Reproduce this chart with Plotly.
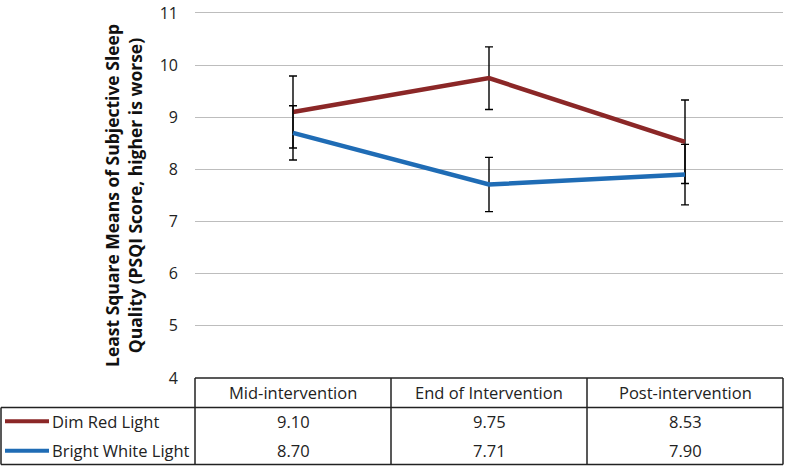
import plotly.graph_objects as go

categories = ["Mid-intervention", "End of Intervention", "Post-intervention"]
series_names = ["Dim Red Light", "Bright White Light"]
red_values = [9.10, 9.75, 8.53]
red_errors = [0.69, 0.60, 0.80]
blue_values = [8.70, 7.71, 7.90]
blue_errors = [0.52, 0.52, 0.58]
y_ticks = [4, 5, 6, 7, 8, 9, 10, 11]
y_title = "Least Square Means of Subjective Sleep<br>Quality (PSQI Score, higher is worse)"

RED = "#8B2727"
BLUE = "#1F6CB5"
FONT = "Open Sans"

W, H = 785, 468
L, R, T, B = 195, 2, 5, 90
PW = W - L - R
PH = H - T - B
Y_TOP = 11 + 2 / 53.0


def px(xp):
    return (xp - L) / PW


def py(yp):
    return (H - B - yp) / PH


fig = go.Figure()
for name, vals, errs, col in [
    (series_names[0], red_values, red_errors, RED),
    (series_names[1], blue_values, blue_errors, BLUE),
]:
    fig.add_trace(go.Scatter(
        x=categories, y=vals, name=name, mode="lines",
        line=dict(color=col, width=4.5),
        error_y=dict(type="data", array=errs, visible=True, color="black",
                     thickness=1.4, width=4),
        showlegend=False, hoverinfo="skip",
    ))

fig.update_layout(
    width=W, height=H,
    margin=dict(l=L, r=R, t=T, b=B),
    paper_bgcolor="white", plot_bgcolor="white",
    font=dict(family=FONT, size=16, color="#222"),
    xaxis=dict(type="category", range=[-0.5, 2.5], showticklabels=False,
               showgrid=False, zeroline=False, showline=False, ticks=""),
    yaxis=dict(range=[4, Y_TOP], tickvals=y_ticks, showgrid=True,
               gridcolor="#BDBDBD", gridwidth=1, zeroline=False,
               showline=False, ticks="", ticklabelstandoff=16,
               ticklabeloverflow="allow",
               tickfont=dict(family=FONT, size=16, color="#222")),
)

# axis title
fig.add_annotation(text="<b>" + y_title + "</b>", textangle=-90,
                   xref="paper", yref="paper", x=px(124), y=py(193),
                   showarrow=False, font=dict(family=FONT, size=17.5, color="#111"),
                   xanchor="center", yanchor="middle")

# table lines
line_style = dict(color="#222", width=1.5)
y_top, y_h, y_bot = 378, 408, 466
col_x = [195, 391, 587, 783]
shapes = []
shapes.append(dict(type="line", xref="paper", yref="paper", x0=px(195), x1=px(783),
                   y0=py(y_top), y1=py(y_top), line=line_style))
for yy in (y_h, y_bot):
    shapes.append(dict(type="line", xref="paper", yref="paper", x0=px(1), x1=px(783),
                       y0=py(yy), y1=py(yy), line=line_style))
for xx in col_x:
    shapes.append(dict(type="line", xref="paper", yref="paper", x0=px(xx), x1=px(xx),
                       y0=py(y_top), y1=py(y_bot), line=line_style))
shapes.append(dict(type="line", xref="paper", yref="paper", x0=px(1), x1=px(1),
                   y0=py(y_h), y1=py(y_bot), line=line_style))

row_y = [422, 452]
for yy, col in zip(row_y, [RED, BLUE]):
    shapes.append(dict(type="line", xref="paper", yref="paper", x0=px(5), x1=px(49),
                       y0=py(yy), y1=py(yy), line=dict(color=col, width=4)))
fig.update_layout(shapes=shapes)

# header
for c in categories:
    fig.add_annotation(text=c, x=c, xref="x", yref="paper", y=py(393),
                       showarrow=False, xanchor="center", yanchor="middle",
                       font=dict(family=FONT, size=16.5, color="#222"))
# rows
for yy, name, vals in zip(row_y, series_names, [red_values, blue_values]):
    fig.add_annotation(text=name, xref="paper", yref="paper", x=px(50), y=py(yy),
                       showarrow=False, xanchor="left", yanchor="middle",
                       font=dict(family=FONT, size=16.5, color="#222"))
    for c, v in zip(categories, vals):
        fig.add_annotation(text=f"{v:.2f}", x=c, xref="x", yref="paper", y=py(yy),
                           showarrow=False, xanchor="center", yanchor="middle",
                           font=dict(family=FONT, size=16.5, color="#222"))

fig.write_html("out.html", config={"displayModeBar": False},
               post_script="document.body.style.margin='0';")
